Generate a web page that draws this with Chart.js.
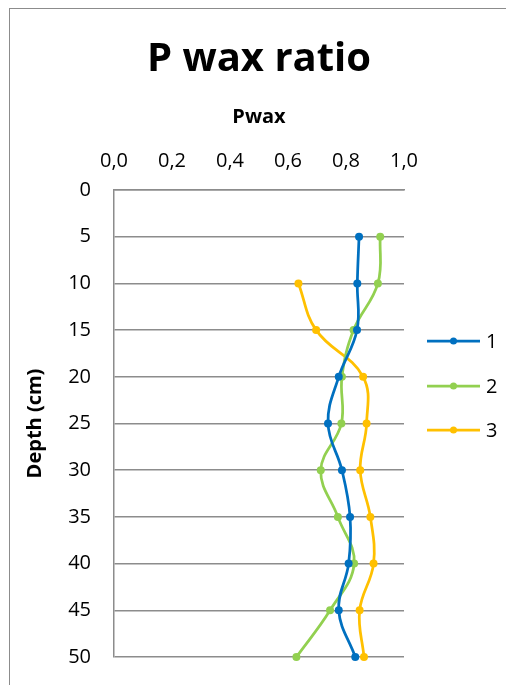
<!DOCTYPE html>
<html>
<head>
<meta charset="utf-8">
<script src="https://cdn.jsdelivr.net/npm/chart.js@4/dist/chart.umd.min.js"></script>
<style>
  html, body { margin: 0; padding: 0; background: #fff; overflow: hidden; }
  #frame {
    position: absolute; left: 9px; top: 8px;
    width: 520px; height: 700px;
    border: 1.5px solid #8c8c8c; box-sizing: border-box; background: #fff;
  }
  #wrap { position: absolute; left: 0; top: 0; width: 518px; height: 698px; }
</style>
</head>
<body>
<div id="frame"><div id="wrap"><canvas id="c"></canvas></div></div>
<script>
// Sampling depths (cm) and Pwax ratio for each profile
const depths  = [5, 10, 15, 20, 25, 30, 35, 40, 45, 50];
const series1 = [0.845, 0.839, 0.838, 0.775, 0.738, 0.786, 0.814, 0.809, 0.775, 0.832];
const series2 = [0.918, 0.910, 0.826, 0.786, 0.784, 0.713, 0.772, 0.828, 0.745, 0.629];
const series3 = [null, 0.636, 0.697, 0.859, 0.871, 0.849, 0.884, 0.895, 0.847, 0.862];
const seriesNames = ['1', '2', '3'];
const seriesColors = ['#0070C0', '#92D050', '#FFC000'];
const xTicks = [0.0, 0.2, 0.4, 0.6, 0.8, 1.0];
const chartTitle = 'P wax ratio';

const FONT = "'Open Sans', 'Liberation Sans', sans-serif";

function toPoints(values) {
  const pts = [];
  values.forEach((v, i) => { if (v !== null) pts.push({ x: v, y: depths[i] }); });
  return pts;
}

const datasets = [series1, series2, series3].map((vals, i) => ({
  label: seriesNames[i],
  data: toPoints(vals),
  borderColor: seriesColors[i],
  backgroundColor: seriesColors[i],
  borderWidth: 2.75,
  pointRadius: 4,
  pointHoverRadius: 4,
  pointBorderWidth: 0,
  showLine: true,
  tension: 0.4,
  clip: false
}));

// Title centred over the plot area, plus a legend of line + marker samples on the right
const decorations = {
  id: 'decorations',
  afterDraw(chart) {
    const ctx = chart.ctx;
    const area = chart.chartArea;
    ctx.save();
    ctx.fillStyle = '#000';
    ctx.font = 'bold 40px ' + FONT;
    ctx.textAlign = 'center';
    ctx.textBaseline = 'middle';
    ctx.fillText(chartTitle, (area.left + area.right) / 2, 51);

    const x0 = 417, x1 = 470, tx = 476;
    const ys = [332, 377, 421];
    chart.data.datasets.forEach((ds, i) => {
      const y = ys[i];
      ctx.strokeStyle = ds.borderColor;
      ctx.lineWidth = 2.75;
      ctx.beginPath(); ctx.moveTo(x0, y); ctx.lineTo(x1, y); ctx.stroke();
      ctx.fillStyle = ds.backgroundColor;
      ctx.beginPath(); ctx.arc((x0 + x1) / 2, y, 3.5, 0, Math.PI * 2); ctx.fill();
      ctx.fillStyle = '#000';
      ctx.font = '20px ' + FONT;
      ctx.textBaseline = 'middle';
      ctx.textAlign = 'left';
      ctx.fillText(ds.label, tx, y + 1);
    });
    ctx.restore();
  }
};

new Chart(document.getElementById('c'), {
  type: 'scatter',
  data: { datasets },
  plugins: [decorations],
  options: {
    responsive: true,
    maintainAspectRatio: false,
    animation: false,
    events: [],
    layout: { padding: { left: 0, right: 124, top: 75, bottom: 50 } },
    plugins: {
      legend: { display: false },
      tooltip: { enabled: false },
      title: { display: false }
    },
    scales: {
      x: {
        type: 'linear',
        position: 'top',
        min: 0, max: 1,
        afterBuildTicks: (scale) => { scale.ticks = xTicks.map(v => ({ value: v })); },
        afterFit: (scale) => { scale.height = 106; },
        ticks: {
          color: '#000',
          padding: 17,
          font: { family: FONT, size: 20 },
          callback: (v) => Number(v).toFixed(1).replace('.', ',')
        },
        grid: { display: false, drawTicks: false },
        border: { display: true, color: '#8c8c8c', width: 1.5 },
        title: {
          display: true,
          text: 'Pwax',
          color: '#000',
          font: { family: FONT, size: 20, weight: 'bold', lineHeight: 1.2 },
          padding: { top: 21, bottom: 0 }
        }
      },
      y: {
        type: 'linear',
        reverse: true,
        min: 0, max: 50,
        afterBuildTicks: (scale) => {
          scale.ticks = [0].concat(depths).map(v => ({ value: v }));
        },
        afterFit: (scale) => { scale.width = 104; },
        ticks: {
          color: '#000',
          padding: 23,
          font: { family: FONT, size: 20 }
        },
        grid: { display: true, drawTicks: false, color: '#8c8c8c', lineWidth: 1.5 },
        border: { display: true, color: '#8c8c8c', width: 1.5 },
        title: {
          display: true,
          text: 'Depth (cm)',
          color: '#000',
          font: { family: FONT, size: 20, weight: 'bold', lineHeight: 1.2 },
          padding: { top: 13, bottom: 0 }
        }
      }
    }
  }
});
</script>
</body>
</html>
